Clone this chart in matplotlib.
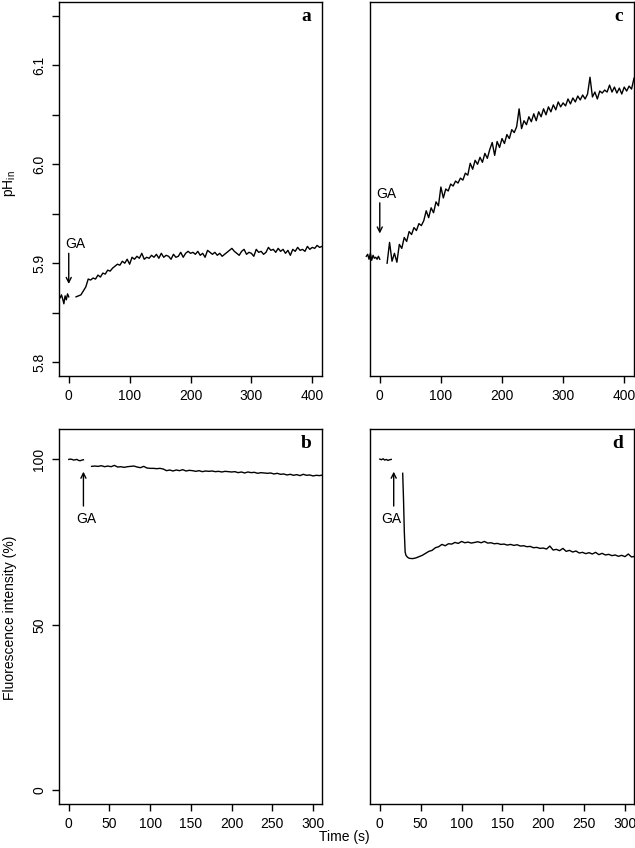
import numpy as np
import matplotlib
matplotlib.use("Agg")
import matplotlib.pyplot as plt

plt.rcParams['font.family'] = ['Liberation Sans', 'DejaVu Sans']
plt.rcParams['mathtext.fontset'] = 'custom'
plt.rcParams['mathtext.rm'] = 'Liberation Sans'
plt.rcParams['mathtext.it'] = 'Liberation Sans:italic'

# panel a: pH_in, control
ph_a_pre = [5.866, 5.865, 5.868, 5.864, 5.859, 5.867, 5.863, 5.869, 5.866]
ph_a_post = [
    5.866, 5.867, 5.868, 5.872, 5.876, 5.884, 5.883, 5.885, 5.884, 5.888,
    5.886, 5.890, 5.889, 5.893, 5.892, 5.895, 5.897, 5.899, 5.898, 5.902,
    5.900, 5.904, 5.899, 5.906, 5.904, 5.907, 5.905, 5.910, 5.904, 5.906,
    5.905, 5.908, 5.906, 5.909, 5.905, 5.910, 5.906, 5.908, 5.907, 5.904,
    5.909, 5.906, 5.907, 5.911, 5.906, 5.910, 5.912, 5.910, 5.911, 5.909,
    5.912, 5.908, 5.910, 5.906, 5.913, 5.911, 5.909, 5.911, 5.908, 5.910,
    5.907, 5.909, 5.911, 5.913, 5.915, 5.912, 5.910, 5.908, 5.912, 5.914,
    5.909, 5.911, 5.910, 5.907, 5.914, 5.911, 5.912, 5.909, 5.911, 5.916,
    5.913, 5.914, 5.911, 5.915, 5.912, 5.914, 5.910, 5.913, 5.908, 5.914,
    5.912, 5.916, 5.913, 5.914, 5.912, 5.917, 5.914, 5.916, 5.915, 5.918,
    5.916, 5.917]

# panel c: pH_in, treated
ph_c_pre = [5.907, 5.909, 5.904, 5.910, 5.903, 5.908, 5.905, 5.906, 5.904, 5.907, 5.904]
ph_c_post = [
    5.900, 5.921, 5.902, 5.910, 5.901, 5.919, 5.915, 5.926, 5.922, 5.932,
    5.929, 5.936, 5.933, 5.940, 5.938, 5.943, 5.953, 5.946, 5.956, 5.951,
    5.962, 5.958, 5.977, 5.966, 5.975, 5.973, 5.980, 5.978, 5.983, 5.981,
    5.986, 5.984, 5.991, 5.989, 6.001, 5.995, 6.004, 6.000, 6.007, 6.002,
    6.011, 6.006, 6.015, 6.022, 6.009, 6.023, 6.017, 6.026, 6.021, 6.030,
    6.026, 6.035, 6.032, 6.038, 6.056, 6.036, 6.044, 6.040, 6.048, 6.043,
    6.051, 6.044, 6.053, 6.048, 6.056, 6.050, 6.058, 6.053, 6.060, 6.055,
    6.063, 6.058, 6.062, 6.059, 6.066, 6.061, 6.067, 6.063, 6.069, 6.065,
    6.070, 6.066, 6.071, 6.088, 6.068, 6.073, 6.066, 6.074, 6.072, 6.075,
    6.073, 6.080, 6.073, 6.078, 6.072, 6.077, 6.071, 6.078, 6.074, 6.079,
    6.076, 6.087]

# panel b: fluorescence, control
fl_b_pre = [100.0, 100.1, 100.0, 99.8, 99.9, 100.0, 99.7, 99.6, 99.8, 99.9]
fl_b_post = [
    97.9, 98.0, 97.9, 98.1, 97.8, 98.0, 97.8, 98.2, 97.7, 97.8,
    97.6, 97.8, 97.9, 98.0, 97.7, 97.5, 97.9, 97.4, 97.3, 97.3,
    97.2, 97.3, 97.1, 96.6, 96.8, 96.5, 96.8, 96.6, 96.9, 96.5,
    96.7, 96.6, 96.4, 96.6, 96.3, 96.5, 96.4, 96.5, 96.3, 96.4,
    96.2, 96.4, 96.3, 96.2, 96.3, 96.0, 96.2, 95.9, 96.2, 96.0,
    96.1, 95.8, 96.0, 95.9, 95.8, 95.9, 95.6, 95.8, 95.5, 95.6,
    95.3, 95.5, 95.2, 95.4, 95.1, 95.5, 95.2, 95.3, 95.0, 95.2,
    95.1, 95.3]

# panel d: fluorescence, treated
fl_d_pre = [100.1, 99.9, 100.2, 99.8, 100.0, 99.7, 99.9, 100.0]
fl_d_drop_t = [28, 29, 30, 31, 32, 34, 36, 40, 44]
fl_d_drop = [95.8, 88.0, 78.0, 72.0, 71.0, 70.4, 70.1, 70.0, 70.2]
fl_d_post = [
    70.6, 71.0, 71.6, 72.2, 72.5, 73.3, 73.6, 74.3, 73.9, 74.5,
    74.4, 74.9, 74.6, 75.2, 74.8, 75.0, 74.7, 74.9, 75.1, 74.8,
    75.2, 74.7, 74.8, 74.5, 74.6, 74.3, 74.4, 74.1, 74.3, 74.0,
    74.2, 73.8, 73.9, 73.6, 73.7, 73.3, 73.4, 73.1, 73.2, 72.9,
    73.8, 72.6, 72.8, 72.4, 73.1, 72.2, 72.5, 72.0, 72.3, 71.7,
    71.9, 71.5, 71.8, 71.4, 71.9, 71.2, 71.6, 71.1, 71.3, 70.9,
    71.1, 70.7, 71.0, 70.6, 71.4, 70.5, 70.7]

W, H = 635, 848
fig = plt.figure(figsize=(W / 100, H / 100), dpi=100)


def box(x0, y0, x1, y1):
    return fig.add_axes([x0 / W, 1 - y1 / H, (x1 - x0) / W, (y1 - y0) / H])


ax_a = box(59, 2, 322, 376)
ax_c = box(370, 2, 634, 376)
ax_b = box(59, 429, 322, 804)
ax_d = box(370, 429, 634, 804)

lw = 1.0
for ax in (ax_a, ax_c, ax_b, ax_d):
    for s in ax.spines.values():
        s.set_linewidth(1.0)
    ax.tick_params(direction='out', length=5, width=1, labelsize=10, pad=4)

# top panels
ax_a.plot(np.linspace(-16, 0, len(ph_a_pre)), ph_a_pre, color='black', lw=lw)
ax_a.plot(np.linspace(12, 416, len(ph_a_post)), ph_a_post, color='black', lw=lw)
ax_c.plot(np.linspace(-22, 0, len(ph_c_pre)), ph_c_pre, color='black', lw=lw, clip_on=False)
ax_c.plot(np.linspace(12, 416, len(ph_c_post)), ph_c_post, color='black', lw=lw)

for ax in (ax_a, ax_c):
    ax.set_xlim(-16, 416)
    ax.set_ylim(5.786, 6.164)
    ax.set_xticks([0, 100, 200, 300, 400])
ax_a.set_yticks([5.8, 5.85, 5.9, 5.95, 6.0, 6.05, 6.1, 6.15])
ax_a.set_yticklabels(['5.8', '', '5.9', '', '6.0', '', '6.1', ''],
                     rotation=90, va='center')
ax_c.tick_params(left=False, labelleft=False)

# bottom panels
ax_b.plot(np.linspace(0, 18, len(fl_b_pre)), fl_b_pre, color='black', lw=lw)
ax_b.plot(np.linspace(28, 312, len(fl_b_post)), fl_b_post, color='black', lw=lw)
ax_d.plot(np.linspace(0, 14, len(fl_d_pre)), fl_d_pre, color='black', lw=lw)
ax_d.plot(fl_d_drop_t + list(np.linspace(48, 312, len(fl_d_post))),
          fl_d_drop + fl_d_post, color='black', lw=lw)

for ax in (ax_b, ax_d):
    ax.set_xlim(-12, 311)
    ax.set_ylim(-4.2, 109.2)
    ax.set_xticks([0, 50, 100, 150, 200, 250, 300])
ax_b.set_yticks([0, 50, 100])
ax_b.set_yticklabels(['0', '50', '100'], rotation=90, va='center')
ax_d.tick_params(left=False, labelleft=False)

# GA arrows
arr = dict(arrowstyle='->', lw=1.0, color='black', mutation_scale=9,
           shrinkA=0, shrinkB=0)
ax_a.annotate('', xy=(0, 5.879), xytext=(0, 5.910), arrowprops=arr)
ax_a.text(10, 5.919, 'GA', ha='center', va='center', fontsize=10)
ax_c.annotate('', xy=(0, 5.930), xytext=(0, 5.961), arrowprops=arr)
ax_c.text(10, 5.970, 'GA', ha='center', va='center', fontsize=10)
ax_b.annotate('', xy=(18, 96.3), xytext=(18, 85.9), arrowprops=arr)
ax_b.text(22, 82, 'GA', ha='center', va='center', fontsize=10)
ax_d.annotate('', xy=(17, 96.3), xytext=(17, 85.9), arrowprops=arr)
ax_d.text(13.5, 82, 'GA', ha='center', va='center', fontsize=10)

# panel letters
for ax, letter in ((ax_a, 'a'), (ax_c, 'c'), (ax_b, 'b'), (ax_d, 'd')):
    ax.text(0.96, 0.96, letter, transform=ax.transAxes, ha='right', va='center',
            fontsize=14, fontweight='bold', family='Liberation Serif')

fig.text(10 / W, 1 - 184 / H, r'pH$_{\mathrm{in}}$', rotation=90,
         ha='center', va='center', fontsize=10)
fig.text(10 / W, 1 - 618 / H, 'Fluorescence intensity (%)', rotation=90,
         ha='center', va='center', fontsize=10)
fig.text(344 / W, 1 - 837 / H, 'Time (s)', ha='center', va='center', fontsize=10)

fig.savefig('out.png', dpi=100)
